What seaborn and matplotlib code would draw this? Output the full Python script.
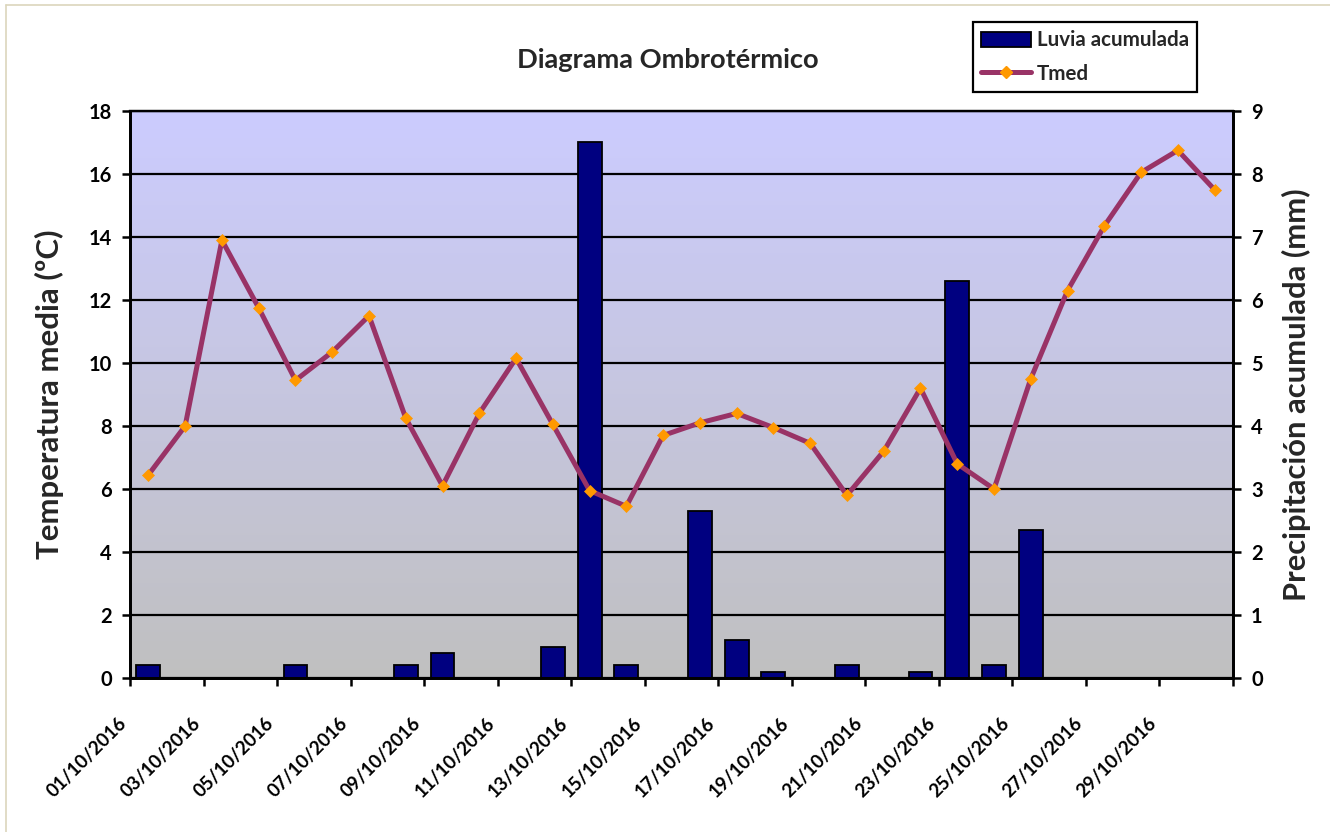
import numpy as np
import pandas as pd
import matplotlib
matplotlib.use("Agg")
import matplotlib.pyplot as plt
import seaborn as sns
from matplotlib.patches import Patch
from matplotlib.lines import Line2D

# ---------------- data ----------------
fechas = ["01/10/2016", "02/10/2016", "03/10/2016", "04/10/2016", "05/10/2016",
          "06/10/2016", "07/10/2016", "08/10/2016", "09/10/2016", "10/10/2016",
          "11/10/2016", "12/10/2016", "13/10/2016", "14/10/2016", "15/10/2016",
          "16/10/2016", "17/10/2016", "18/10/2016", "19/10/2016", "20/10/2016",
          "21/10/2016", "22/10/2016", "23/10/2016", "24/10/2016", "25/10/2016",
          "26/10/2016", "27/10/2016", "28/10/2016", "29/10/2016", "30/10/2016"]
tmed = [6.45, 8.0, 13.9, 11.75, 9.45, 10.35, 11.5, 8.25, 6.1, 8.4,
        10.15, 8.05, 5.95, 5.45, 7.7, 8.1, 8.4, 7.95, 7.45, 5.8,
        7.2, 9.2, 6.8, 6.0, 9.5, 12.3, 14.35, 16.05, 16.75, 15.5]
lluvia = [0.2, 0, 0, 0, 0.2, 0, 0, 0.2, 0.4, 0,
          0, 0.5, 8.5, 0.2, 0, 2.65, 0.6, 0.1, 0, 0.2,
          0, 0.1, 6.3, 0.2, 2.35, 0, 0, 0, 0, 0]
etiquetas = ["01/10/2016", "03/10/2016", "05/10/2016", "07/10/2016", "09/10/2016",
             "11/10/2016", "13/10/2016", "15/10/2016", "17/10/2016", "19/10/2016",
             "21/10/2016", "23/10/2016", "25/10/2016", "27/10/2016", "29/10/2016"]
temp_ticks = [0, 2, 4, 6, 8, 10, 12, 14, 16, 18]
prec_ticks = [0, 1, 2, 3, 4, 5, 6, 7, 8, 9]

titulo = "Diagrama Ombrotérmico"
ylabel_izq = "Temperatura media (ºC)"
ylabel_der = "Precipitación acumulada (mm)"
serie_lluvia = "Luvia acumulada"
serie_tmed = "Tmed"

df = pd.DataFrame({"fecha": fechas, "pos": np.arange(len(fechas)),
                   "tmed": tmed, "lluvia": lluvia})

# ---------------- style ----------------
sns.set_style("white")
plt.rcParams["font.family"] = ["Lato", "DejaVu Sans"]
plt.rcParams["font.weight"] = "bold"

W, H = 1330, 832
fig = plt.figure(figsize=(W / 100, H / 100), dpi=100)
fig.patch.set_facecolor("white")

L, R, T, B = 130, 1233, 111, 678
ax = fig.add_axes([L / W, 1 - B / H, (R - L) / W, (B - T) / H])
ax2 = ax.twinx()
ax.set_zorder(ax2.get_zorder() + 1)
ax.patch.set_visible(False)

n = len(fechas)
xmin, xmax = -0.5, n - 0.5

# gradient background on the rear axis
top_c = np.array([204, 204, 255]) / 255
bot_c = np.array([192, 192, 192]) / 255
t = np.linspace(0, 1, 256)[:, None]
grad = top_c[None, :] * (1 - t) + bot_c[None, :] * t
grad = np.repeat(grad[:, None, :], 2, axis=1)
ax2.imshow(grad, extent=(xmin, xmax, 0, 9), aspect="auto", zorder=0,
           interpolation="bilinear")

# bars (precipitation, right axis)
sns.barplot(data=df, x="fecha", y="lluvia", ax=ax2, color="#000080",
            edgecolor="black", linewidth=1.3, width=0.65, saturation=1,
            errorbar=None)

# line (temperature, left axis)
sns.lineplot(data=df, x="pos", y="tmed", ax=ax, color="#993366",
             linewidth=3.6, marker="D", markersize=6.5,
             markerfacecolor="#FF9900", markeredgecolor="#FF9900",
             markeredgewidth=0.5, legend=False)

ax.set_xlim(xmin, xmax)
ax.set_ylim(0, 18)
ax2.set_ylim(0, 9)
ax.set_yticks(temp_ticks)
ax2.set_yticks(prec_ticks)

# gridlines on rear axis
ax2.set_axisbelow(True)
ax2.yaxis.grid(True, color="black", linewidth=1.6)
ax2.xaxis.grid(False)
ax.grid(False)

# x ticks on category boundaries every two days
tick_pos = [fechas.index(e) - 0.5 for e in etiquetas] + [n - 0.5]
ax.set_xticks(tick_pos)
ax.set_xticklabels(etiquetas + [""], rotation=45, ha="right", va="top",
                   fontsize=13.5, fontweight="bold")
ax.tick_params(axis="x", direction="out", length=6, width=1.8, pad=20,
               colors="black", bottom=True)
ax.tick_params(axis="y", direction="out", length=6, width=1.8, pad=7,
               labelsize=14.5, colors="black", left=True)
ax2.tick_params(axis="y", direction="out", length=6, width=1.8, pad=7,
                labelsize=14.5, colors="black", right=True)
for lab in ax.get_yticklabels() + ax2.get_yticklabels():
    lab.set_fontweight("bold")

ax.set_xlabel("")
ax2.set_xlabel("")
ax.set_ylabel(ylabel_izq, fontsize=22.4, fontweight="bold", labelpad=18)
ax2.set_ylabel(ylabel_der, fontsize=22.2, fontweight="bold", labelpad=14)

for a in (ax, ax2):
    for s in a.spines.values():
        s.set_color("black")
        s.set_linewidth(2)
ax.spines["top"].set_linewidth(1.6)
ax2.spines["top"].set_linewidth(1.6)

fig.text(668 / W, 1 - 60 / H, titulo, ha="center", va="center",
         fontsize=19.6, fontweight="bold")

handles = [Patch(facecolor="#000080", edgecolor="black", linewidth=1.3),
           Line2D([0], [0], color="#993366", linewidth=3.6, marker="D",
                  markersize=6.5, markerfacecolor="#FF9900",
                  markeredgecolor="#FF9900")]
leg = fig.legend(handles, [serie_lluvia, serie_tmed], loc="upper left",
                 bbox_to_anchor=(973 / W, 1 - 22 / H), frameon=True,
                 fancybox=False, shadow=False, framealpha=1,
                 edgecolor="black", prop={"size": 14.8, "weight": "bold"},
                 handlelength=2.4, handleheight=0.75, handletextpad=0.3,
                 labelspacing=0.65, borderpad=0.4, borderaxespad=0)
leg.get_frame().set_linewidth(1.6)

# thin frame lines (top and left) of the original chart area
fig.add_artist(Line2D([6 / W, 1], [1 - 4.5 / H, 1 - 4.5 / H],
                      transform=fig.transFigure, color="#DCD6BC", linewidth=1.2))
fig.add_artist(Line2D([6 / W, 6 / W], [0, 1 - 4.5 / H],
                      transform=fig.transFigure, color="#DCD6BC", linewidth=1.2))

fig.savefig("out.png", dpi=100, facecolor="white")
